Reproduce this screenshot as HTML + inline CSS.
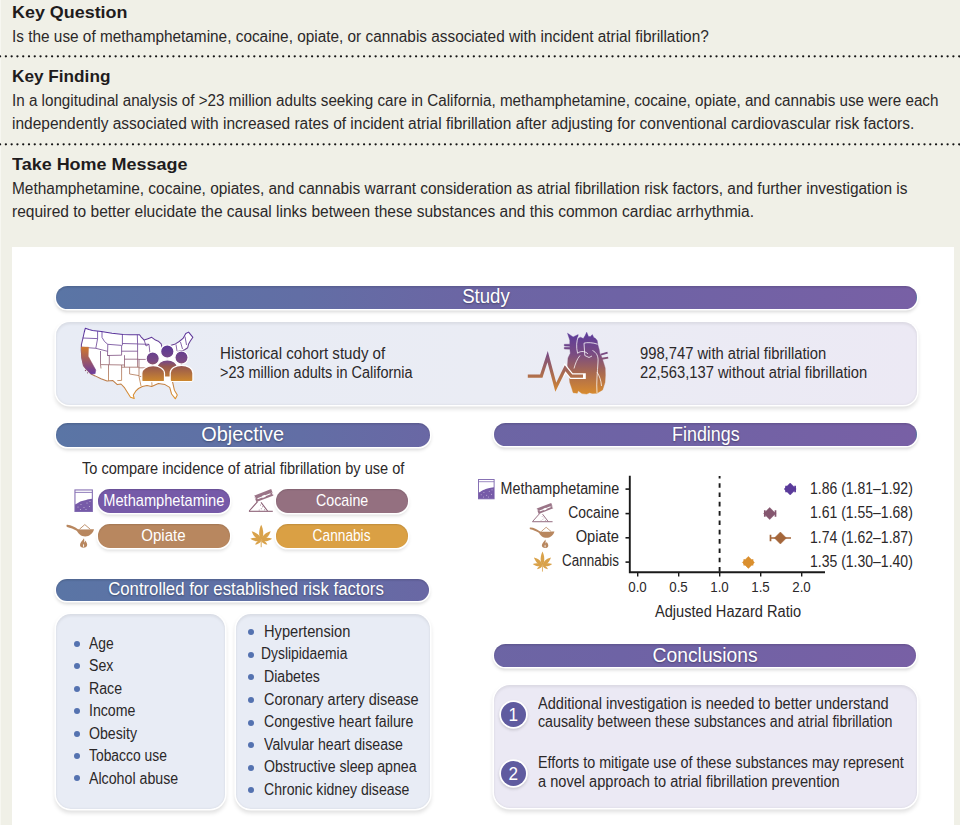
<!DOCTYPE html>
<html><head><meta charset="utf-8"><style>
html,body{margin:0;padding:0;}
body{width:960px;height:825px;position:relative;overflow:hidden;background:#F0F0E7;font-family:"Liberation Sans", sans-serif;}
.t{position:absolute;white-space:nowrap;line-height:1;}
</style></head><body>
<div style="position:absolute;left:0;top:0;width:1px;height:825px;background:#F7F7F1"></div>
<svg style="position:absolute;left:0;top:0" width="960" height="160"><path d="M0.1 56.3H962M0.1 144.3H962" stroke="#151515" stroke-width="2.3" stroke-linecap="round" stroke-dasharray="0 5.7775"/></svg>
<div style="position:absolute;left:11.6px;top:246.8px;width:942.6px;height:579px;background:#fff"></div>
<div style="position:absolute;left:55.75px;top:285.6px;width:860.75px;height:23.40px;border-radius:11.70px;background:linear-gradient(90deg,#5A75A5 0px,#626EA5 244px,#6C65A4 420px,#6E63A5 564px,#7860A5 860px);background-size:860px 100%;background-position:-0.00px 0;box-shadow:0 0 0 1.6px #fff,0 2.5px 3.5px 0.8px rgba(0,0,0,0.15),inset 0 1.5px 1.5px rgba(0,0,0,0.12)"></div>
<div style="position:absolute;left:55.8px;top:423px;width:374.20px;height:23.50px;border-radius:11.75px;background:linear-gradient(90deg,#5A75A5 0px,#626EA5 244px,#6C65A4 420px,#6E63A5 564px,#7860A5 860px);background-size:860px 100%;background-position:-0.05px 0;box-shadow:0 0 0 1.6px #fff,0 2.5px 3.5px 0.8px rgba(0,0,0,0.15),inset 0 1.5px 1.5px rgba(0,0,0,0.12)"></div>
<div style="position:absolute;left:494px;top:422.8px;width:422.50px;height:23.60px;border-radius:11.80px;background:linear-gradient(90deg,#5A75A5 0px,#626EA5 244px,#6C65A4 420px,#6E63A5 564px,#7860A5 860px);background-size:860px 100%;background-position:-438.25px 0;box-shadow:0 0 0 1.6px #fff,0 2.5px 3.5px 0.8px rgba(0,0,0,0.15),inset 0 1.5px 1.5px rgba(0,0,0,0.12)"></div>
<div style="position:absolute;left:55.6px;top:578.5px;width:373.90px;height:22.80px;border-radius:11.40px;background:linear-gradient(90deg,#5A75A5 0px,#626EA5 244px,#6C65A4 420px,#6E63A5 564px,#7860A5 860px);background-size:860px 100%;background-position:0.15px 0;box-shadow:0 0 0 1.6px #fff,0 2.5px 3.5px 0.8px rgba(0,0,0,0.15),inset 0 1.5px 1.5px rgba(0,0,0,0.12)"></div>
<div style="position:absolute;left:493.7px;top:644.2px;width:422.80px;height:23.30px;border-radius:11.65px;background:linear-gradient(90deg,#5A75A5 0px,#626EA5 244px,#6C65A4 420px,#6E63A5 564px,#7860A5 860px);background-size:860px 100%;background-position:-437.95px 0;box-shadow:0 0 0 1.6px #fff,0 2.5px 3.5px 0.8px rgba(0,0,0,0.15),inset 0 1.5px 1.5px rgba(0,0,0,0.12)"></div>
<div style="position:absolute;left:56px;top:322.4px;width:861.00px;height:82.60px;border-radius:14px;background:linear-gradient(90deg,#E8ECF5,#EAECF4 50%,#ECE9F4);box-shadow:0 0 0 1.6px #fff,0 3px 4px 0.6px rgba(0,0,0,0.13),inset 0 2px 3px rgba(0,0,0,0.07),inset 0 -1px 2px rgba(0,0,0,0.04)"></div>
<div style="position:absolute;left:56px;top:614.4px;width:169.30px;height:194.60px;border-radius:15px;background:#E8ECF5;box-shadow:0 0 0 1.6px #fff,0 3px 4px 0.6px rgba(0,0,0,0.13),inset 0 2px 3px rgba(0,0,0,0.07),inset 0 -1px 2px rgba(0,0,0,0.04)"></div>
<div style="position:absolute;left:235.8px;top:614.4px;width:194.70px;height:194.60px;border-radius:15px;background:#E8ECF5;box-shadow:0 0 0 1.6px #fff,0 3px 4px 0.6px rgba(0,0,0,0.13),inset 0 2px 3px rgba(0,0,0,0.07),inset 0 -1px 2px rgba(0,0,0,0.04)"></div>
<div style="position:absolute;left:493.7px;top:685px;width:423.10px;height:123.20px;border-radius:16px;background:#EBE9F4;box-shadow:0 0 0 1.6px #fff,0 3px 4px 0.6px rgba(0,0,0,0.13),inset 0 2px 3px rgba(0,0,0,0.07),inset 0 -1px 2px rgba(0,0,0,0.04)"></div>
<div style="position:absolute;left:98px;top:489.1px;width:131.70px;height:23.70px;border-radius:11.85px;background:#765AA8;box-shadow:0 0 0 1.6px #fff,0 2.5px 3.5px 0.6px rgba(0,0,0,0.13),inset 0 1px 1.5px rgba(0,0,0,0.12)"></div>
<div style="position:absolute;left:276.2px;top:489.1px;width:132.10px;height:23.70px;border-radius:11.85px;background:#947080;box-shadow:0 0 0 1.6px #fff,0 2.5px 3.5px 0.6px rgba(0,0,0,0.13),inset 0 1px 1.5px rgba(0,0,0,0.12)"></div>
<div style="position:absolute;left:98px;top:524px;width:131.70px;height:23.70px;border-radius:11.85px;background:#B8875F;box-shadow:0 0 0 1.6px #fff,0 2.5px 3.5px 0.6px rgba(0,0,0,0.13),inset 0 1px 1.5px rgba(0,0,0,0.12)"></div>
<div style="position:absolute;left:276.2px;top:524px;width:132.10px;height:23.70px;border-radius:11.85px;background:#DAA044;box-shadow:0 0 0 1.6px #fff,0 2.5px 3.5px 0.6px rgba(0,0,0,0.13),inset 0 1px 1.5px rgba(0,0,0,0.12)"></div>
<div style="position:absolute;left:73.60px;top:641.00px;width:6px;height:6px;border-radius:3px;background:#5472B0"></div>
<div style="position:absolute;left:73.60px;top:663.40px;width:6px;height:6px;border-radius:3px;background:#5472B0"></div>
<div style="position:absolute;left:73.60px;top:685.80px;width:6px;height:6px;border-radius:3px;background:#5472B0"></div>
<div style="position:absolute;left:73.60px;top:708.20px;width:6px;height:6px;border-radius:3px;background:#5472B0"></div>
<div style="position:absolute;left:73.60px;top:730.60px;width:6px;height:6px;border-radius:3px;background:#5472B0"></div>
<div style="position:absolute;left:73.60px;top:753.00px;width:6px;height:6px;border-radius:3px;background:#5472B0"></div>
<div style="position:absolute;left:73.60px;top:775.40px;width:6px;height:6px;border-radius:3px;background:#5472B0"></div>
<div style="position:absolute;left:248.20px;top:629.10px;width:6px;height:6px;border-radius:3px;background:#5472B0"></div>
<div style="position:absolute;left:248.20px;top:651.70px;width:6px;height:6px;border-radius:3px;background:#5472B0"></div>
<div style="position:absolute;left:248.20px;top:674.30px;width:6px;height:6px;border-radius:3px;background:#5472B0"></div>
<div style="position:absolute;left:248.20px;top:696.90px;width:6px;height:6px;border-radius:3px;background:#5472B0"></div>
<div style="position:absolute;left:248.20px;top:719.50px;width:6px;height:6px;border-radius:3px;background:#5472B0"></div>
<div style="position:absolute;left:248.20px;top:742.10px;width:6px;height:6px;border-radius:3px;background:#5472B0"></div>
<div style="position:absolute;left:248.20px;top:764.70px;width:6px;height:6px;border-radius:3px;background:#5472B0"></div>
<div style="position:absolute;left:248.20px;top:787.30px;width:6px;height:6px;border-radius:3px;background:#5472B0"></div>
<div style="position:absolute;left:501.10px;top:701.80px;width:25px;height:25px;border-radius:50%;background:#5F5B9F;box-shadow:0 0 0 1.8px #fff,0 1.5px 3px 1.8px rgba(0,0,0,0.15);color:#fff;font-size:19px;line-height:25px;text-align:center;font-family:'Liberation Sans',sans-serif;transform:none"><span style="display:inline-block;transform:scaleX(0.9)">1</span></div>
<div style="position:absolute;left:501.10px;top:760.70px;width:25px;height:25px;border-radius:50%;background:#5F5B9F;box-shadow:0 0 0 1.8px #fff,0 1.5px 3px 1.8px rgba(0,0,0,0.15);color:#fff;font-size:19px;line-height:25px;text-align:center;font-family:'Liberation Sans',sans-serif;transform:none"><span style="display:inline-block;transform:scaleX(0.9)">2</span></div>
<svg style="position:absolute;left:0;top:0" width="960" height="825" viewBox="0 0 960 825"><path d="M629.8 475.8V572.3H825" fill="none" stroke="#1a1a1a" stroke-width="1.9"/><path d="M625.5 489.1H630" stroke="#1a1a1a" stroke-width="1.6"/><path d="M625.5 513.6H630" stroke="#1a1a1a" stroke-width="1.6"/><path d="M625.5 537.8H630" stroke="#1a1a1a" stroke-width="1.6"/><path d="M625.5 562.1H630" stroke="#1a1a1a" stroke-width="1.6"/><path d="M637.7 572V576.5" stroke="#1a1a1a" stroke-width="1.4"/><path d="M678.7 572V576.5" stroke="#1a1a1a" stroke-width="1.4"/><path d="M719.7 572V576.5" stroke="#1a1a1a" stroke-width="1.4"/><path d="M760.7 572V576.5" stroke="#1a1a1a" stroke-width="1.4"/><path d="M801.7 572V576.5" stroke="#1a1a1a" stroke-width="1.4"/><path d="M719.6 476V572" stroke="#1a1a1a" stroke-width="1.9" stroke-dasharray="4.6 4.73" stroke-dashoffset="2.2"/><path d="M786.1 489.0H795.1M786.1 485.8V492.2M795.1 485.8V492.2" stroke="#5A3A9A" stroke-width="1.7" fill="none"/><path d="M784.2 489.0L790.2 483.0L796.2 489.0L790.2 495.0Z" fill="#5A3A9A" stroke="#5A3A9A" stroke-width=".5" stroke-linejoin="round"/><path d="M764.8 513.5H775.5M764.8 510.3V516.7M775.5 510.3V516.7" stroke="#84566F" stroke-width="1.7" fill="none"/><path d="M763.7 513.5L769.7 507.5L775.7 513.5L769.7 519.5Z" fill="#84566F" stroke="#84566F" stroke-width=".5" stroke-linejoin="round"/><path d="M770.5 538.0H791.0M770.5 534.8V541.2" stroke="#A4663A" stroke-width="1.7" fill="none"/><path d="M774.4 538.0L780.4 532.0L786.4 538.0L780.4 544.0Z" fill="#A4663A" stroke="#A4663A" stroke-width=".5" stroke-linejoin="round"/><path d="M744.3 562.4H752.5M744.3 559.1999999999999V565.6M752.5 559.1999999999999V565.6" stroke="#DA8F2E" stroke-width="1.7" fill="none"/><path d="M742.4 562.4L748.4 556.4L754.4 562.4L748.4 568.4Z" fill="#DA8F2E" stroke="#DA8F2E" stroke-width=".5" stroke-linejoin="round"/></svg>
<svg style="position:absolute;left:0;top:0" width="960" height="825" viewBox="0 0 960 825"><defs><g id="i_meth"><rect x="74.95" y="489.95" width="17.4" height="21.5" fill="#fff" stroke="#8670B4" stroke-width="1.1"/>
<path d="M75 492.4H92.3" stroke="#8670B4" stroke-width=".9"/>
<path d="M75.05 504.6C78 503 79.5 501.5 82 501C85 500.5 86.5 499.2 92.25 498.7V511.35H75.05Z" fill="#765AA8"/>
<g fill="#fff" opacity=".55"><circle cx="78" cy="507" r=".6"/><circle cx="81" cy="504.5" r=".6"/><circle cx="84" cy="507.5" r=".6"/><circle cx="87" cy="503" r=".6"/><circle cx="89.5" cy="506.5" r=".6"/><circle cx="86" cy="509.5" r=".6"/><circle cx="80.5" cy="509.5" r=".6"/><circle cx="90" cy="501.5" r=".6"/></g></g><g id="i_coc" fill="#8C6176" stroke="none"><path d="M248.9 511.3H272.8" stroke="#8C6176" stroke-width="1.1"/>
<path d="M249.2 511L257.6 501.6M261 502.4L267.6 511" stroke="#8C6176" stroke-width="1.05"/>
<g opacity=".85"><circle cx="260.5" cy="505" r=".55"/><circle cx="262.6" cy="506.8" r=".55"/><circle cx="261.3" cy="508.8" r=".55"/><circle cx="264.6" cy="509.8" r=".55"/><circle cx="259.2" cy="510" r=".5"/></g>
<path d="M254 495.7L271.2 489.1L273.6 495.5L256.4 502.1Z" opacity=".88"/>
<path d="M257.5 498.7L270.5 493.7" stroke="#fff" stroke-width="1.2"/><path d="M262.2 497L265.4 495.8" stroke="#fff" stroke-width="2"/><path d="M254 495.7L255.6 498.6M273.6 495.5L271.9 492.4" stroke="#fff" stroke-width=".8"/></g><g id="i_opi" fill="#B8875F"><path d="M66.8 524.8C70.5 524.5 74.5 526.9 78 529.3L77.3 531C73.8 529.2 70.2 527.5 67 526.9C66.4 526.6 66.3 525.1 66.8 524.8Z"/>
<path d="M76.3 529.2H94C93.2 533.2 89.3 536.4 85.2 536.4C81.2 536.4 77.8 533.8 76.3 529.2Z"/>
<path d="M79.5 529.2L84.8 524.6L90.2 529.2" fill="#fff" stroke="#B8875F" stroke-width=".9"/>
<path d="M84 538.3C82.5 540.5 80 542.5 80 545C80 546.8 81.5 547.7 83.5 547.7C85.5 547.7 87.2 546.7 87.2 544.8C87.2 543 86 542 85.5 540.6C85 541.8 84.6 542.3 84.1 542.5C84.4 541 84.4 539.5 84 538.3Z"/>
<path d="M83.6 543.8C82.9 545 82.9 546.6 83.6 547.4C84.3 546.6 84.3 545 83.6 543.8Z" fill="#fff"/></g><g id="i_can" fill="#D9A24A"><path transform="translate(261.2,540.2) rotate(0)" d="M0 0 C3.10 -3.85 2.33 -10.78 0 -15.40 C-2.33 -10.78 -3.10 -3.85 0 0Z"/><path transform="translate(261.2,540.2) rotate(-47)" d="M0 0 C3.00 -3.25 2.25 -9.10 0 -13.00 C-2.25 -9.10 -3.00 -3.25 0 0Z"/><path transform="translate(261.2,540.2) rotate(47)" d="M0 0 C3.00 -3.25 2.25 -9.10 0 -13.00 C-2.25 -9.10 -3.00 -3.25 0 0Z"/><path transform="translate(261.2,540.2) rotate(-82)" d="M0 0 C2.50 -2.75 1.88 -7.70 0 -11.00 C-1.88 -7.70 -2.50 -2.75 0 0Z"/><path transform="translate(261.2,540.2) rotate(82)" d="M0 0 C2.50 -2.75 1.88 -7.70 0 -11.00 C-1.88 -7.70 -2.50 -2.75 0 0Z"/><path transform="translate(261.2,540.2) rotate(-125)" d="M0 0 C1.90 -1.88 1.42 -5.25 0 -7.50 C-1.42 -5.25 -1.90 -1.88 0 0Z"/><path transform="translate(261.2,540.2) rotate(125)" d="M0 0 C1.90 -1.88 1.42 -5.25 0 -7.50 C-1.42 -5.25 -1.90 -1.88 0 0Z"/><path d="M261.2 540.2V547.2" stroke="#D9A24A" stroke-width=".9"/></g>
<linearGradient id="gmap" x1="0" y1="328" x2="0" y2="399" gradientUnits="userSpaceOnUse"><stop offset="0" stop-color="#5530A0"/><stop offset=".3" stop-color="#6E4490"/><stop offset=".6" stop-color="#A8705A"/><stop offset="1" stop-color="#E0922A"/></linearGradient>
<linearGradient id="gca" x1="0" y1="347" x2="0" y2="374" gradientUnits="userSpaceOnUse"><stop offset="0" stop-color="#D0782A"/><stop offset="1" stop-color="#6A3A9E"/></linearGradient>
<linearGradient id="gppl" x1="0" y1="345" x2="0" y2="382" gradientUnits="userSpaceOnUse"><stop offset="0" stop-color="#5A3898"/><stop offset=".45" stop-color="#7A4A82"/><stop offset=".58" stop-color="#96584F"/><stop offset="1" stop-color="#D08A2C"/></linearGradient>
<linearGradient id="ghrt" x1="0" y1="332" x2="0" y2="395" gradientUnits="userSpaceOnUse"><stop offset="0" stop-color="#5A3A9C"/><stop offset=".35" stop-color="#7A4C82"/><stop offset=".65" stop-color="#A96A50"/><stop offset="1" stop-color="#DA8C2C"/></linearGradient>
</defs><use href="#i_meth"/><use href="#i_coc"/><use href="#i_opi"/><use href="#i_can"/><use href="#i_meth" transform="translate(478.00,479.00) scale(0.8982) translate(-74.40,-489.40)"/><use href="#i_coc" transform="translate(532.00,502.50) scale(0.8462) translate(-248.50,-488.60)"/><use href="#i_opi" transform="translate(530.00,527.00) scale(0.8974) translate(-66.80,-524.30)"/><use href="#i_can" transform="translate(533.00,551.60) scale(0.8929) translate(-250.60,-524.80)"/><path d="M85.3 328.3L89 329.6L92.5 330.4L101.3 331.5L112 333.2L123.1 334.5L130 334.8L139.5 334.8L141 336.8L144.2 340.1L148 338.7L151.7 337.3L155.5 340.1L158.3 341.2L161.2 343.9L162.1 347.7L165 348.4L168 346.4L172 345L175.4 343.9L179.2 341.5L183 338.4L185.8 333.5L188.6 332.1L192.9 337.3L190.3 341L188.6 343.9L187.7 347.7L185 349.5L183 350.5L178.5 351.2L176.5 354L178.5 358.5L181.5 364L180.5 371L177 377L172.5 381.7L174.4 390.2L177.3 395L175.4 398.8L171.6 394L169.7 387.4L165 384.6L158.4 383.6L155 385L151.7 386.5L147 385.5L142.3 386.5L138.5 388.5L135.7 391.2L133.3 395L134.2 398.6L130.5 397.3L127.5 392.5L124.2 387.3L121 384L117.3 384.6L112.9 380.6L107.1 381L101 378.8L95.1 375.9L91.1 374.1L86.5 369.5L83.5 365.7L81.8 358L81.3 350.5L81.4 344.6L83 338L84.3 332Z" fill="#fff" stroke="url(#gmap)" stroke-width="1.05" stroke-linejoin="round"/><path d="M82.6 338L97.6 338.6M97.6 331.2V338.6L95.8 348.3M81.3 347.2L95.8 348.3L107.5 351.3M102 331.8V337.4L104.5 341.5L107.8 344.3L121.6 345.4M122.4 334.6V345.4M122.4 343.5L137.3 343.9M137.3 334.8L137.6 344L149 344.3M107.8 344.3L107.5 355.5L121.6 355.2V345.4M100.5 351V364.6L101 368.5M107.5 355.5H109.3V364.6M100.5 364.6L124.5 365M124.5 355.2V367.2M121.6 351.2H137.6M137.6 344V367.2M124.5 359.2H138.5M108.5 364.6V380.9M121.6 365V380.4L117.3 380.6M121.6 367.2H139M129.6 367.2V374L139 375.6M139 359V376.5L141 386M149 344.3L149.8 352L151 359L152 368M138.5 359.4H150M139 367.8H152M139.5 376.5H151.5L152 386M144.2 340.1L146 346L149 344.3M180.5 342L182.5 349M185 336.5L186.5 345M176 344.5L177 351" fill="none" stroke="url(#gmap)" stroke-width=".8" stroke-linejoin="round"/><path d="M81.3 347L88.5 347.2L88.2 356.3L95.8 370.1L95.1 373.7L91.1 374.1L86.5 369.5L83.5 365.7L81.8 358L81.3 350.5Z" fill="url(#gca)" stroke="url(#gca)" stroke-width=".5"/><circle cx="85.5" cy="370.5" r=".7" fill="#8A4E6A"/><circle cx="87.5" cy="372.8" r=".6" fill="#8A4E6A"/><path d="M157.2 375.8V367.3A10.100000000000009 7.5 0 0 1 177.4 367.3V375.8Q177.4 377 175.9 377H158.7Q157.2 377 157.2 375.8Z" fill="url(#gppl)" stroke="#fff" stroke-width="1.2"/><circle cx="167.3" cy="351.5" r="6.7" fill="url(#gppl)" stroke="#fff" stroke-width="1.2"/><path d="M141.8 380.5V373.2A11.349999999999994 7.5 0 0 1 164.5 373.2V380.5Q164.5 381.7 163.0 381.7H143.3Q141.8 381.7 141.8 380.5Z" fill="url(#gppl)" stroke="#fff" stroke-width="1.2"/><circle cx="152.7" cy="358.6" r="6.6" fill="url(#gppl)" stroke="#fff" stroke-width="1.2"/><path d="M170.2 380.3V372.9A11.350000000000009 7.5 0 0 1 192.9 372.9V380.3Q192.9 381.5 191.4 381.5H171.7Q170.2 381.5 170.2 380.3Z" fill="url(#gppl)" stroke="#fff" stroke-width="1.2"/><circle cx="181.5" cy="357.6" r="6.6" fill="url(#gppl)" stroke="#fff" stroke-width="1.2"/><path d="M567.5 333.2L573.1 336.9L578.2 334.6L577.8 338.5L580.5 337.2L583.3 338.6L585 335.8L586.7 332.2L588.5 336.6L590.5 336.4L592.3 334.6L593.8 337.6L595.6 338.6L597.2 340.6L597.9 344.9L599.2 349.5L599.8 353.3L601.5 356.5L603.6 362.7L605.2 368L605.4 375L605 382.4L602.6 389.9L597 393.2L592.5 393.5L589.5 392.7L586.7 394.1L582 393.6L580.2 392.2L578.2 390.8L577.3 393.2L573.1 392.7L571.7 388L569.8 382.4L568.9 373L567.5 365.5L568 358L570.3 353.3L569.9 349.2L564.3 349L564.3 347.3L569.8 347.2L569.8 346.2L564.3 346L564.3 344.3L569.8 344.2L569.8 340.2Z" fill="url(#ghrt)" stroke="url(#ghrt)" stroke-width=".4" stroke-linejoin="round"/><path d="M600.8 354.6L607.6 352.6M601.8 358.8L608.2 357.6" stroke="url(#ghrt)" stroke-width="1.9"/><path d="M578.3 336.5C576.5 341 576 347 577.6 353.3M584 343.2C587 342.2 593 342.5 597.5 344.2M584 343.2L584.8 355.5L589 357.5L592 356M577.6 353.3C581 350.2 586 351.5 588 354M592.5 350.5C596.5 352.5 598.5 356 598 362C597.5 372 596.2 382 597 393M597 372C599.5 376 601 380 601.5 386M580 355.5C577 359 575.2 364 574 368.5" stroke="#fff" stroke-width=".8" fill="none" opacity=".95"/><clipPath id="ecgclip"><rect x="563.5" y="340" width="40" height="60"/></clipPath><path d="M527.8 376.1H541.3L547.6 356.6L555.8 387.2L565.1 368.2L571.4 376.1H583" fill="none" stroke="#fff" stroke-width="5.6" stroke-linejoin="miter" stroke-linecap="square" clip-path="url(#ecgclip)"/><path d="M527.8 376.1H541.3L547.6 356.6L555.8 387.2L565.1 368.2L571.4 376.1H583" fill="none" stroke="url(#ghrt)" stroke-width="3.2" stroke-linejoin="miter" stroke-linecap="butt"/></svg>

<div class="t" style="left:12.00px;top:4px;font-size:17px;color:#1f1c1d;font-weight:700;transform:scaleX(1.0539);transform-origin:left 50%;">Key Question</div>
<div class="t" style="left:12.00px;top:29px;font-size:16px;color:#2b2829;transform:scaleX(0.9600);transform-origin:left 50%;">Is the use of methamphetamine, cocaine, opiate, or cannabis associated with incident atrial fibrillation?</div>
<div class="t" style="left:12.00px;top:68px;font-size:17px;color:#1f1c1d;font-weight:700;transform:scaleX(1.0115);transform-origin:left 50%;">Key Finding</div>
<div class="t" style="left:12.00px;top:93px;font-size:16px;color:#2b2829;transform:scaleX(0.9499);transform-origin:left 50%;">In a longitudinal analysis of &gt;23 million adults seeking care in California, methamphetamine, cocaine, opiate, and cannabis use were each</div>
<div class="t" style="left:12.00px;top:116px;font-size:16px;color:#2b2829;transform:scaleX(0.9680);transform-origin:left 50%;">independently associated with increased rates of incident atrial fibrillation after adjusting for conventional cardiovascular risk factors.</div>
<div class="t" style="left:12.00px;top:156px;font-size:17px;color:#1f1c1d;font-weight:700;transform:scaleX(1.0573);transform-origin:left 50%;">Take Home Message</div>
<div class="t" style="left:12.00px;top:181px;font-size:16px;color:#2b2829;transform:scaleX(0.9644);transform-origin:left 50%;">Methamphetamine, cocaine, opiates, and cannabis warrant consideration as atrial fibrillation risk factors, and further investigation is</div>
<div class="t" style="left:12.00px;top:204px;font-size:16px;color:#2b2829;transform:scaleX(0.9701);transform-origin:left 50%;">required to better elucidate the causal links between these substances and this common cardiac arrhythmia.</div>
<div class="t" style="left:461.26px;top:287px;font-size:19.5px;color:#ffffff;transform:scaleX(0.9544);transform-origin:center 50%;text-shadow:0 1px 2px rgba(0,0,0,.35);">Study</div>
<div class="t" style="left:202.35px;top:425px;font-size:19.5px;color:#ffffff;transform:scaleX(1.0209);transform-origin:center 50%;text-shadow:0 1px 2px rgba(0,0,0,.35);">Objective</div>
<div class="t" style="left:668.64px;top:425px;font-size:19.5px;color:#ffffff;transform:scaleX(0.9156);transform-origin:center 50%;text-shadow:0 1px 2px rgba(0,0,0,.35);">Findings</div>
<div class="t" style="left:101.65px;top:581px;font-size:17.5px;color:#ffffff;transform:scaleX(0.9573);transform-origin:center 50%;text-shadow:0 1px 2px rgba(0,0,0,.35);">Controlled for established risk factors</div>
<div class="t" style="left:652.18px;top:646px;font-size:19.5px;color:#ffffff;transform:scaleX(0.9884);transform-origin:center 50%;text-shadow:0 1px 2px rgba(0,0,0,.35);">Conclusions</div>
<div class="t" style="left:219.80px;top:346px;font-size:15.6px;color:#2b2829;transform:scaleX(0.9676);transform-origin:left 50%;">Historical cohort study of</div>
<div class="t" style="left:219.80px;top:365px;font-size:15.6px;color:#2b2829;transform:scaleX(0.9278);transform-origin:left 50%;">&gt;23 million adults in California</div>
<div class="t" style="left:639.80px;top:346px;font-size:15.6px;color:#2b2829;transform:scaleX(0.9463);transform-origin:left 50%;">998,747 with atrial fibrillation</div>
<div class="t" style="left:639.80px;top:365px;font-size:15.6px;color:#2b2829;transform:scaleX(0.9462);transform-origin:left 50%;">22,563,137 without atrial fibrillation</div>
<div class="t" style="left:81.60px;top:461px;font-size:15.6px;color:#2b2829;transform:scaleX(0.9345);transform-origin:left 50%;">To compare incidence of atrial fibrillation by use of</div>
<div class="t" style="left:97.99px;top:493px;font-size:15.9px;color:#ffffff;transform:scaleX(0.9193);transform-origin:center 50%;">Methamphetamine</div>
<div class="t" style="left:312.84px;top:493px;font-size:15.9px;color:#ffffff;transform:scaleX(0.8969);transform-origin:center 50%;">Cocaine</div>
<div class="t" style="left:140.39px;top:528px;font-size:15.9px;color:#ffffff;transform:scaleX(0.9460);transform-origin:center 50%;">Opiate</div>
<div class="t" style="left:308.43px;top:528px;font-size:15.9px;color:#ffffff;transform:scaleX(0.8624);transform-origin:center 50%;">Cannabis</div>
<div class="t" style="left:489.84px;top:481px;font-size:15.6px;color:#2b2829;transform:scaleX(0.9183);transform-origin:right 50%;">Methamphetamine</div>
<div class="t" style="left:561.78px;top:505px;font-size:15.6px;color:#2b2829;transform:scaleX(0.8913);transform-origin:right 50%;">Cocaine</div>
<div class="t" style="left:573.05px;top:529px;font-size:15.6px;color:#2b2829;transform:scaleX(0.9423);transform-origin:right 50%;">Opiate</div>
<div class="t" style="left:553.11px;top:553px;font-size:15.6px;color:#2b2829;transform:scaleX(0.8636);transform-origin:right 50%;">Cannabis</div>
<div class="t" style="left:810.00px;top:481px;font-size:15.6px;color:#2b2829;transform:scaleX(0.8982);transform-origin:left 50%;">1.86 (1.81–1.92)</div>
<div class="t" style="left:810.00px;top:505px;font-size:15.6px;color:#2b2829;transform:scaleX(0.8982);transform-origin:left 50%;">1.61 (1.55–1.68)</div>
<div class="t" style="left:810.00px;top:530px;font-size:15.6px;color:#2b2829;transform:scaleX(0.8982);transform-origin:left 50%;">1.74 (1.62–1.87)</div>
<div class="t" style="left:810.00px;top:554px;font-size:15.6px;color:#2b2829;transform:scaleX(0.8982);transform-origin:left 50%;">1.35 (1.30–1.40)</div>
<div class="t" style="left:627.21px;top:579px;font-size:15.1px;color:#2b2829;transform:scaleX(0.8816);transform-origin:center 50%;">0.0</div>
<div class="t" style="left:668.21px;top:579px;font-size:15.1px;color:#2b2829;transform:scaleX(0.8816);transform-origin:center 50%;">0.5</div>
<div class="t" style="left:709.21px;top:579px;font-size:15.1px;color:#2b2829;transform:scaleX(0.8816);transform-origin:center 50%;">1.0</div>
<div class="t" style="left:750.21px;top:579px;font-size:15.1px;color:#2b2829;transform:scaleX(0.8816);transform-origin:center 50%;">1.5</div>
<div class="t" style="left:791.21px;top:579px;font-size:15.1px;color:#2b2829;transform:scaleX(0.8816);transform-origin:center 50%;">2.0</div>
<div class="t" style="left:650.18px;top:604px;font-size:15.6px;color:#2b2829;transform:scaleX(0.9364);transform-origin:center 50%;">Adjusted Hazard Ratio</div>
<div class="t" style="left:89.00px;top:636px;font-size:15.6px;color:#2b2829;transform:scaleX(0.8901);transform-origin:left 50%;">Age</div>
<div class="t" style="left:89.00px;top:658px;font-size:15.6px;color:#2b2829;transform:scaleX(0.9073);transform-origin:left 50%;">Sex</div>
<div class="t" style="left:89.00px;top:681px;font-size:15.6px;color:#2b2829;transform:scaleX(0.9073);transform-origin:left 50%;">Race</div>
<div class="t" style="left:89.00px;top:703px;font-size:15.6px;color:#2b2829;transform:scaleX(0.9073);transform-origin:left 50%;">Income</div>
<div class="t" style="left:89.00px;top:726px;font-size:15.6px;color:#2b2829;transform:scaleX(0.9073);transform-origin:left 50%;">Obesity</div>
<div class="t" style="left:89.00px;top:748px;font-size:15.6px;color:#2b2829;transform:scaleX(0.8897);transform-origin:left 50%;">Tobacco use</div>
<div class="t" style="left:89.00px;top:771px;font-size:15.6px;color:#2b2829;transform:scaleX(0.9105);transform-origin:left 50%;">Alcohol abuse</div>
<div class="t" style="left:264.20px;top:624px;font-size:15.6px;color:#2b2829;transform:scaleX(0.9402);transform-origin:left 50%;">Hypertension</div>
<div class="t" style="left:261.10px;top:646px;font-size:15.6px;color:#2b2829;transform:scaleX(0.8900);transform-origin:left 50%;">Dyslipidaemia</div>
<div class="t" style="left:264.20px;top:669px;font-size:15.6px;color:#2b2829;transform:scaleX(0.9073);transform-origin:left 50%;">Diabetes</div>
<div class="t" style="left:264.20px;top:692px;font-size:15.6px;color:#2b2829;transform:scaleX(0.9290);transform-origin:left 50%;">Coronary artery disease</div>
<div class="t" style="left:264.20px;top:714px;font-size:15.6px;color:#2b2829;transform:scaleX(0.9073);transform-origin:left 50%;">Congestive heart failure</div>
<div class="t" style="left:264.20px;top:737px;font-size:15.6px;color:#2b2829;transform:scaleX(0.9073);transform-origin:left 50%;">Valvular heart disease</div>
<div class="t" style="left:264.20px;top:759px;font-size:15.6px;color:#2b2829;transform:scaleX(0.9073);transform-origin:left 50%;">Obstructive sleep apnea</div>
<div class="t" style="left:264.20px;top:782px;font-size:15.6px;color:#2b2829;transform:scaleX(0.9018);transform-origin:left 50%;">Chronic kidney disease</div>
<div class="t" style="left:538.30px;top:696px;font-size:15.6px;color:#2b2829;transform:scaleX(0.9342);transform-origin:left 50%;">Additional investigation is needed to better understand</div>
<div class="t" style="left:538.30px;top:714px;font-size:15.6px;color:#2b2829;transform:scaleX(0.9129);transform-origin:left 50%;">causality between these substances and atrial fibrillation</div>
<div class="t" style="left:538.30px;top:755px;font-size:15.6px;color:#2b2829;transform:scaleX(0.9199);transform-origin:left 50%;">Efforts to mitigate use of these substances may represent</div>
<div class="t" style="left:538.30px;top:774px;font-size:15.6px;color:#2b2829;transform:scaleX(0.9356);transform-origin:left 50%;">a novel approach to atrial fibrillation prevention</div>
</body></html>
